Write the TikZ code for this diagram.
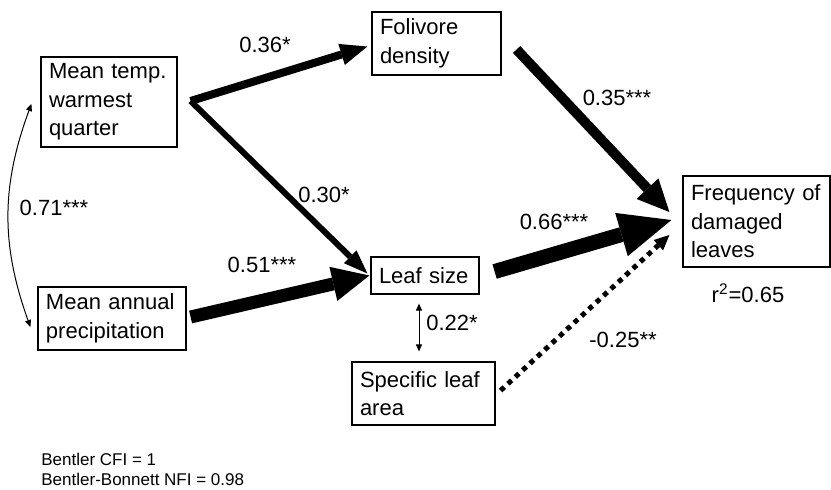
\documentclass[tikz,border=0pt]{standalone}
\usepackage{fontspec}
\setmainfont{Liberation Sans}
\usetikzlibrary{arrows.meta,calc,positioning}

\tikzset{
    var/.style={draw, line width=0.6pt, align=left, inner xsep=4pt, inner ysep=0pt,
        font=\fontsize{11}{14.25}\selectfont},
    coef/.style={inner sep=0pt, font=\fontsize{11}{14.25}\selectfont},
    effect/.style n args={3}{line width=#1, -{Triangle[length=#2, width=#3, line width=0pt]}},
    thinarr/.style={line width=0.5pt, {Triangle[length=3.5pt, width=3pt]}-{Triangle[length=3.5pt, width=3pt]}}
}

\begin{document}
\begin{tikzpicture}[x=0.5pt, y=-0.5pt]
    \useasboundingbox (0,0) rectangle (831,489);

    % Variables
    \node [var, text width=60pt, minimum height=45pt] (temp) at (109,102) {Mean temp.\\warmest\\quarter};
    \node [var, text width=66pt, minimum height=31.5pt] (precip) at (112,318.5) {Mean annual\\precipitation};
    \node [var, text width=56.5pt, minimum height=31.5pt] (fol) at (436.5,43.5) {Folivore\\density};
    \node [var, text width=46pt, minimum height=18.5pt] (leaf) at (425,275.5) {Leaf size};
    \node [var, text width=63.5pt, minimum height=31.5pt] (sla) at (423.5,393.5) {Specific leaf\\area};
    \node [var, text width=65.5pt, minimum height=45.5pt] (freq) at (756.5,221.5) {Frequency of\\damaged\\leaves};

    % Ends of the paths
    \coordinate (tq) at ($(temp.east)+(13,-1)$);
    \coordinate (fol-in) at ($(fol.west)+(-4,3)$);
    \coordinate (leaf-in1) at ($(leaf.west)+(-3,-2)$);
    \coordinate (leaf-in2) at ($(leaf.west)+(-1,0)$);
    \coordinate (precip-out) at ($(precip.east)+(4,-1.5)$);
    \coordinate (fol-out) at ($(fol.east)+(15,6)$);
    \coordinate (leaf-out) at ($(leaf.east)+(15,-4)$);
    \coordinate (sla-out) at ($(sla.east)+(5,-3)$);
    \coordinate (freq-in1) at ($(freq.west)+(-13,-9.5)$);
    \coordinate (freq-in2) at ($(freq.west)+(-11,-1.5)$);
    \coordinate (freq-in3) at ($(freq.west)+(-13,13.5)$);

    % Paths
    \draw [effect={4pt}{13.5pt}{11pt}] (tq) -- (fol-in);
    \draw [effect={3pt}{12pt}{9pt}] (tq) -- (leaf-in1);
    \draw [effect={6.5pt}{18.5pt}{17.5pt}] (precip-out) -- (leaf-in2);
    \draw [effect={5pt}{16pt}{15pt}] (fol-out) -- (freq-in1);
    \draw [effect={7.5pt}{26pt}{22.5pt}] (leaf-out) -- (freq-in2);
    \draw [effect={2.5pt}{7.5pt}{7pt}, dash pattern=on 2.5pt off 2.5pt] (sla-out) -- (freq-in3);

    % Correlations
    \coordinate (temp-c) at ($(temp.west)+(-9,2)$);
    \coordinate (precip-c) at ($(precip.west)+(-7,8.5)$);
    \draw [thinarr] (temp-c) to[bend right=20] (precip-c);
    \coordinate (leaf-c) at ($(leaf.south)+(-6,9)$);
    \coordinate (sla-c) at ($(sla.north)+(-4.5,-10)$);
    \draw [thinarr] (leaf-c) -- (sla-c);

    % Coefficients
    \node [coef] (c36) at (265,45) {0.36*};
    \node [coef] (c30) at (324,195) {0.30*};
    \node [coef] (c51) at (262,265) {0.51***};
    \node [coef] (c71) at (54,208) {0.71***};
    \node [coef] (c35) at (617,98) {0.35***};
    \node [coef] (c66) at (554,222) {0.66***};
    \node [coef] (c22) at (452,323) {0.22*};
    \node [coef] (c25) at (623,340) {-0.25**};
    \node [coef] (r2) at (748,293) {r\textsuperscript{2}=0.65};

    % Fit
    \node [anchor=west, align=left, inner sep=0pt, font=\fontsize{8.5}{10}\selectfont] (fit) at (41,469)
        {Bentler CFI = 1\\Bentler-Bonnett NFI = 0.98};
\end{tikzpicture}
\end{document}
